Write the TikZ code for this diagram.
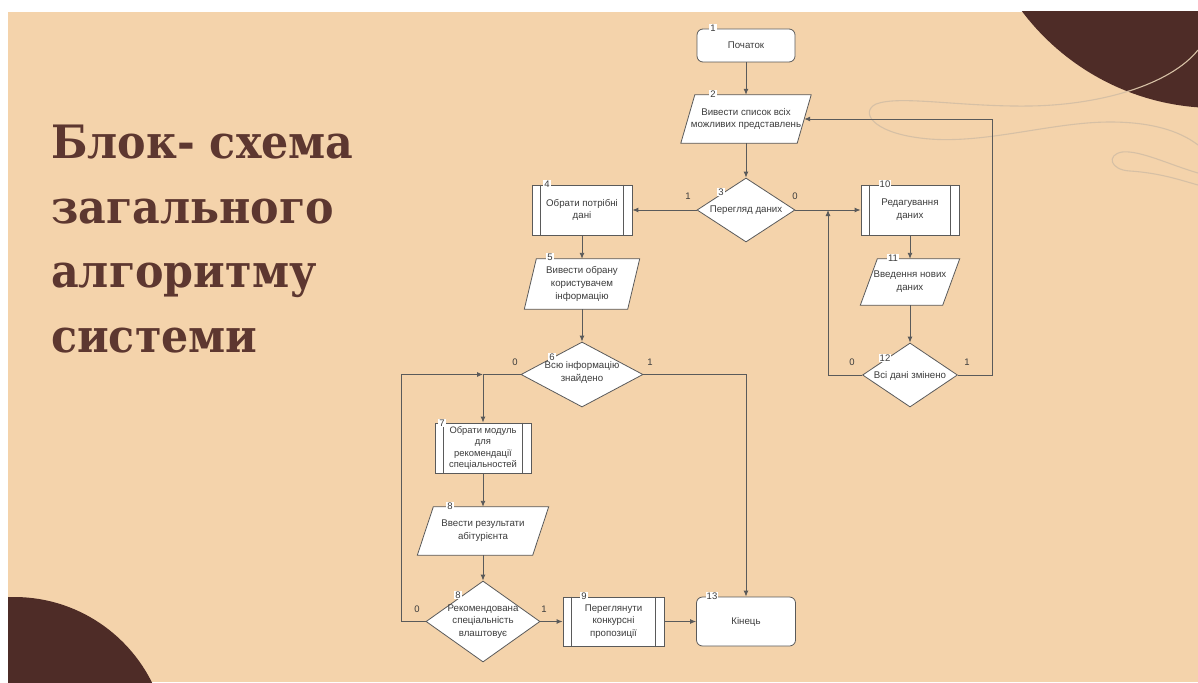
\documentclass[tikz,border=0pt]{standalone}
\usepackage{fontspec}
\setmainfont{Liberation Sans}
\newfontfamily\titlefont[FakeStretch=0.93]{DejaVu Serif}
\usetikzlibrary{shapes.geometric,arrows.meta}
\definecolor{bgc}{HTML}{F4D3AB}
\definecolor{darkc}{HTML}{4E2C27}
\definecolor{titlec}{HTML}{5D3730}
\definecolor{decoc}{HTML}{D6C0A5}
\definecolor{linec}{HTML}{5A5A5A}
\definecolor{textc}{HTML}{3C3C3C}
\newcommand\subl[1]{\draw[draw=linec,line width=0.8pt] ([xshift=9pt]#1.north west) -- ([xshift=9pt]#1.south west) ([xshift=-9pt]#1.north east) -- ([xshift=-9pt]#1.south east);}
\newcommand\paral[2]{\filldraw[draw=linec,fill=white,line width=0.8pt] ([xshift=#2pt]#1.north west) -- ([xshift=#2pt]#1.north east) -- ([xshift=-#2pt]#1.south east) -- ([xshift=-#2pt]#1.south west) -- cycle;}
\begin{document}
\begin{tikzpicture}[x=1pt,y=-1pt,
 box/.style={draw=linec, fill=white, line width=0.8pt, inner sep=0pt},
 term/.style={box, rectangle, rounded corners=6pt},
 sub/.style={box, rectangle},
 para/.style={rectangle, draw=none, inner sep=0pt},
 dia/.style={box, diamond},
 txt/.style={font=\fontsize{9.7}{12.8}\selectfont, text=textc, align=center, inner sep=0pt},
 num/.style={font=\fontsize{9.5}{10}\selectfont, text=textc, fill=white, inner sep=1pt},
 lab/.style={font=\fontsize{9.5}{10}\selectfont, text=textc, inner sep=0pt},
 conn/.style={draw=linec, line width=0.9pt},
 arr/.style={conn, -{Latex[length=6pt,width=5pt]}},
 title/.style={font=\titlefont\bfseries\fontsize{46}{60}\selectfont, text=titlec, anchor=base west, inner sep=0pt},
 deco/.style={draw=decoc, line width=1.1pt},
]
\useasboundingbox (0,0) rectangle (1198,682);
\fill[white] (0,0) rectangle (1198,682);
\fill[bgc] (8,12) rectangle (1198,682);
\begin{scope}
\clip (8,12) rectangle (1198,682);
\fill[darkc] (1216,-135) circle (243);
\fill[darkc] (14,751) circle (154);
\draw[deco] (1198,50) .. controls (1170,85) and (1100,105) .. (1030,106)
  .. controls (960,107) and (900,95) .. (876,104)
  .. controls (860,112) and (872,132) .. (920,138)
  .. controls (980,146) and (1050,122) .. (1110,122)
  .. controls (1160,122) and (1185,135) .. (1198,145);
\draw[deco] (1198,173) .. controls (1170,165) and (1140,150) .. (1122,152)
  .. controls (1106,155) and (1110,170) .. (1130,171)
  .. controls (1160,173) and (1180,180) .. (1198,185);
\end{scope}

% title
\node[title] (t1) at (51,158) {Блок- схема};
\node[title] (t2) at (51,223) {загального};
\node[title] (t3) at (51,287) {алгоритму};
\node[title] (t4) at (51,352) {системи};

% nodes
\node[term, minimum width=98pt, minimum height=33pt] (n1) at (746,45.5) {};
\node[txt] at (n1) {Початок};
\node[para, minimum width=116pt, minimum height=48pt] (n2) at (746,119) {};
\paral{n2}{7}
\node[txt] at (n2) {Вивести список всіх\\можливих представлень};
\node[dia, minimum width=98pt, minimum height=64pt] (d3) at (746,210) {};
\node[txt] at (d3) {Перегляд даних};
\node[sub, minimum width=100pt, minimum height=50pt] (n4) at (582,210) {};
\subl{n4}
\node[txt] at (n4) {Обрати потрібні\\дані};
\node[sub, minimum width=98pt, minimum height=50pt] (n10) at (910,210) {};
\subl{n10}
\node[txt] at (n10) {Редагування\\даних};
\node[para, minimum width=82pt, minimum height=46pt] (n11) at (910,282) {};
\paral{n11}{8.5}
\node[txt] at (n11) {Введення нових\\даних};
\node[dia, minimum width=95pt, minimum height=64pt] (d12) at (910,375) {};
\node[txt] at ([yshift=-1pt]d12.center) {Всі дані змінено};
\node[para, minimum width=103pt, minimum height=50pt] (n5) at (582,284) {};
\paral{n5}{6}
\node[txt] at (n5) {Вивести обрану\\користувачем\\інформацію};
\node[dia, minimum width=122pt, minimum height=65pt] (d6) at (582,374.5) {};
\node[txt] at ([yshift=2pt]d6.center) {Всю інформацію\\знайдено};
\node[sub, minimum width=96pt, minimum height=50pt] (n7) at (483,448) {};
\subl{n7}
\node[txt, font=\fontsize{9.4}{11.6}\selectfont] at (n7) {Обрати модуль\\для\\рекомендації\\спеціальностей};
\node[para, minimum width=115pt, minimum height=48pt] (n8) at (483,531) {};
\paral{n8}{8}
\node[txt] at (n8) {Ввести результати\\абітурієнта};
\node[dia, minimum width=114pt, minimum height=81pt] (d8) at (483,621.5) {};
\node[txt] at (d8) {Рекомендована\\спеціальність\\влаштовує};
\node[sub, minimum width=101pt, minimum height=49pt] (n9) at (613.5,621.5) {};
\subl{n9}
\node[txt] at (n9) {Переглянути\\конкурсні\\пропозиції};
\node[term, minimum width=99pt, minimum height=49pt] (n13) at (746,621.5) {};
\node[txt] at (n13) {Кінець};

% connectors
\draw[arr] (n1.south) -- (n2.north);
\draw[arr] (n2.south) -- (d3.north);
\draw[arr] (d3.west) -- (n4.east);
\draw[arr] (d3.east) -- (n10.west);
\draw[arr] (n4.south) -- (n5.north);
\draw[arr] (n5.south) -- (d6.north);
\draw[arr] (d6.east) -| (n13.north);
\draw[arr] (d6.west) -| (n7.north);
\draw[arr] (n7.south) -- (n8.north);
\draw[arr] (n8.south) -- (d8.north);
\draw[arr] (d8.east) -- (n9.west);
\draw[arr] (n9.east) -- (n13.west);
\coordinate (j6) at (n7.north |- d6.west);
\draw[arr] (d8.west) -- ++(-24,0) |- (j6);
\draw[arr] (n10.south) -- (n11.north);
\draw[arr] (n11.south) -- (d12.north);
\coordinate (j3) at (828,210);
\draw[arr] (d12.west) -| (j3);
\draw[arr] (d12.east) -- ++(35,0) |- (n2.east);

% edge labels
\node[lab] (e1) at (688,196) {1};
\node[lab] (e2) at (795,196) {0};
\node[lab] (e3) at (515,362) {0};
\node[lab] (e4) at (650,362) {1};
\node[lab] (e5) at (417,609) {0};
\node[lab] (e6) at (544,609) {1};
\node[lab] (e7) at (852,362) {0};
\node[lab] (e8) at (967,362) {1};

% numbers
\node[num] (k1) at (713,28) {1};
\node[num] (k2) at (713,94) {2};
\node[num] (k3) at (721,192) {3};
\node[num] (k4) at (547,184) {4};
\node[num] (k5) at (550,257) {5};
\node[num] (k6) at (552,357) {6};
\node[num] (k7) at (442,423) {7};
\node[num] (k8) at (450,506) {8};
\node[num] (k8b) at (458,595) {8};
\node[num] (k9) at (584,596) {9};
\node[num] (k10) at (885,184) {10};
\node[num] (k11) at (893,258) {11};
\node[num] (k12) at (885,358) {12};
\node[num] (k13) at (712,596) {13};
\end{tikzpicture}
\end{document}
